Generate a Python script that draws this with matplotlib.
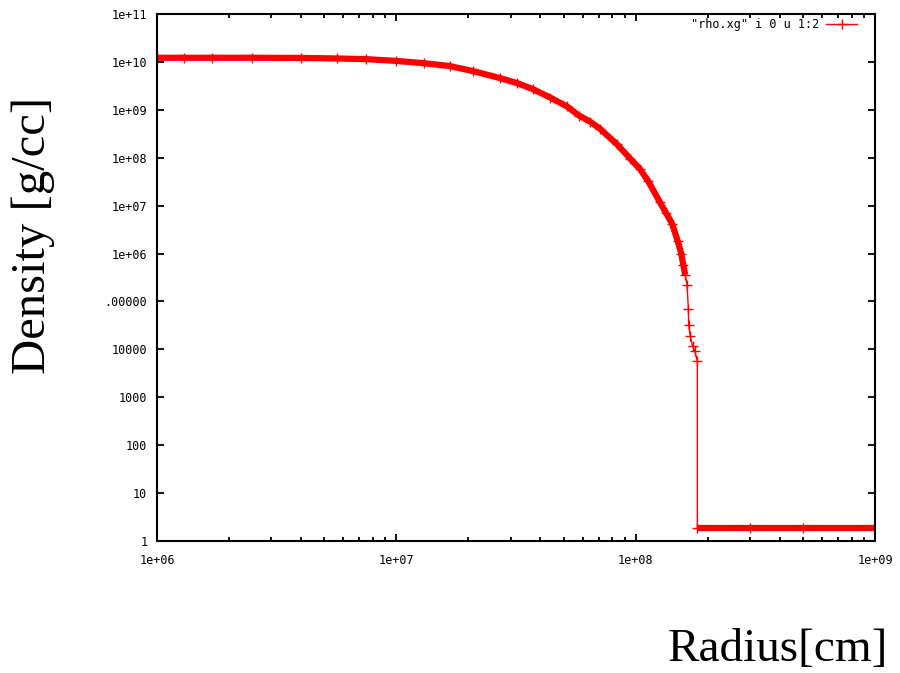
import numpy as np
import matplotlib
matplotlib.use('Agg')
import matplotlib.pyplot as plt
from matplotlib.ticker import LogLocator, NullLocator

# radius [cm] and density [g/cc] profile
radius = np.array([
    1.0e6, 1.3e6, 1.7e6, 2.5e6, 4.0e6, 5.65e6, 7.5e6, 1.0e7, 1.3e7, 1.67e7,
    2.1e7, 2.71e7, 3.2e7, 3.72e7, 4.4e7, 5.16e7, 5.8e7, 6.44e7, 7.1e7, 8.36e7,
    9.5e7, 1.04e8, 1.13e8, 1.26e8, 1.34e8, 1.42e8, 1.50e8, 1.55e8, 1.58e8, 1.61e8,
    1.64e8, 1.66e8, 1.665e8, 1.69e8, 1.73e8, 1.77e8, 1.81e8, 1.81e8, 3.0e8, 5.0e8,
    1.0e9])
density = np.array([
    1.22e10, 1.22e10, 1.22e10, 1.22e10, 1.21e10, 1.18e10, 1.14e10, 1.05e10, 9.4e9, 8.2e9,
    6.4e9, 4.6e9, 3.6e9, 2.7e9, 1.8e9, 1.18e9, 7.6e8, 5.7e8, 4.0e8, 1.9e8,
    9.5e7, 5.9e7, 3.2e7, 1.2e7, 7.0e6, 4.2e6, 1.8e6, 1.0e6, 5.9e5, 3.6e5,
    2.2e5, 7.1e4, 3.3e4, 1.9e4, 1.15e4, 9.1e3, 5.6e3, 1.9, 1.9, 1.9,
    1.9])

ytick_vals = [1, 10, 100, 1000, 1e4, 1e5, 1e6, 1e7, 1e8, 1e9, 1e10, 1e11]
ytick_text = ['1', '10', '100', '1000', '10000', '.00000', '1e+06', '1e+07',
              '1e+08', '1e+09', '1e+10', '1e+11']
xtick_vals = [1e6, 1e7, 1e8, 1e9]
xtick_text = ['1e+06', '1e+07', '1e+08', '1e+09']

W, H = 900, 673
fig = plt.figure(figsize=(W / 100, H / 100), dpi=100)
ax = fig.add_axes([157 / W, 1 - 541 / H, 718 / W, 527 / H])
ax.set_xscale('log')
ax.set_yscale('log')
ax.set_xlim(1e6, 1e9)
ax.set_ylim(1, 1e11)

# dense zones show up as a solid band of markers
core = density > 3e5
floor = density < 10
ax.plot(radius[core], density[core], color='red', lw=4.5, solid_capstyle='butt')
ax.plot(radius[floor], density[floor], color='red', lw=4.5, solid_capstyle='butt')
ax.plot(radius, density, color='red', lw=1.0, marker='+', ms=7, mew=1.0,
        label='"rho.xg" i 0 u 1:2')

mono = 'DejaVu Sans Mono'
ax.set_xticks(xtick_vals)
ax.set_xticklabels(xtick_text, family=mono, fontsize=8.5)
ax.xaxis.set_minor_locator(LogLocator(base=10, subs=np.arange(2, 10)))
ax.set_yticks(ytick_vals)
ax.set_yticklabels(ytick_text, family=mono, fontsize=8.5)
ax.yaxis.set_minor_locator(NullLocator())
ax.tick_params(which='both', direction='in', top=True, right=True, width=1.3)
ax.tick_params(which='major', length=5)
ax.tick_params(which='minor', length=3)
ax.tick_params(axis='x', which='major', pad=9)
ax.tick_params(axis='y', which='major', pad=7)
for sp in ax.spines.values():
    sp.set_linewidth(1.5)

ax.legend(loc='upper right', bbox_to_anchor=(0.985, 1.005), frameon=False,
          markerfirst=False, numpoints=1, handlelength=2.6, handletextpad=0.6,
          borderaxespad=0.2, prop={'family': mono, 'size': 8.5})

fig.text(33 / W, 1 - 235 / H, 'Density [g/cc]', rotation=90, ha='center', va='center',
         family='Liberation Serif', fontsize=35)
fig.text(888 / W, 1 - 650 / H, 'Radius[cm]', ha='right', va='center',
         family='Liberation Serif', fontsize=34)

fig.savefig('out.png', dpi=100)
